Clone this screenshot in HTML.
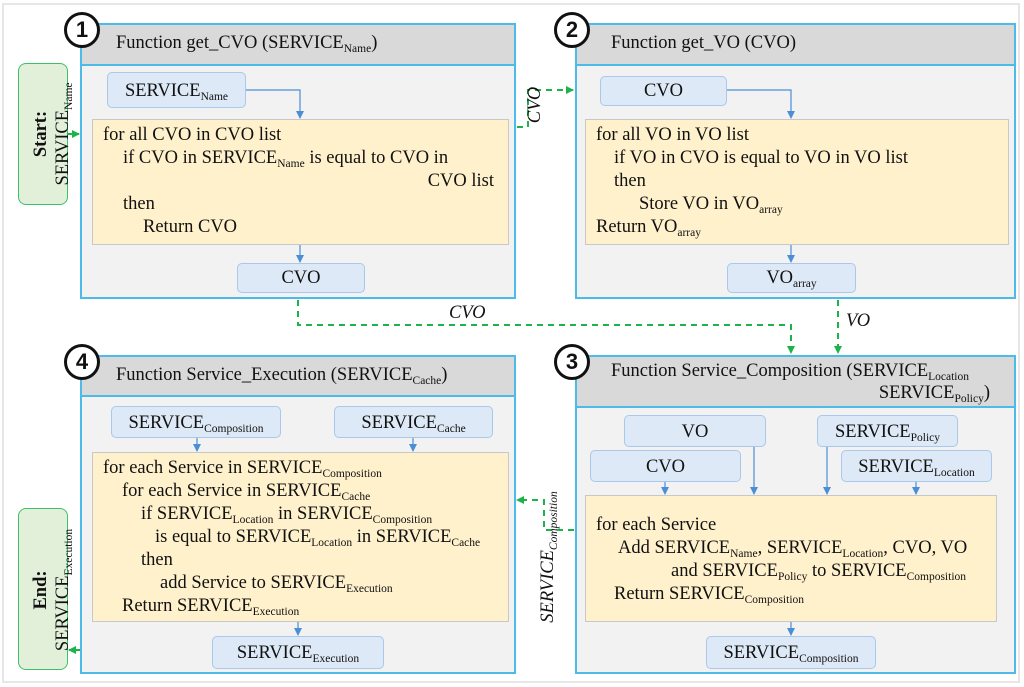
<!DOCTYPE html>
<html><head><meta charset="utf-8"><style>
*{margin:0;padding:0;box-sizing:border-box}
body{width:1024px;height:687px;background:#fff;position:relative;overflow:hidden;font-family:"Liberation Serif",serif;font-size:18.5px;color:#111}
.a{position:absolute}
.frame{left:2px;top:3px;width:1018px;height:680px;border:2px solid #e6e6e6}
.p{position:absolute;border:2px solid #4dbbe8;background:#f2f2f2}
.h{position:absolute;left:0;right:0;top:0;background:#d9d9d9;border-bottom:2px solid #4dbbe8;padding-left:34px;padding-top:8px}
.b{position:absolute;background:#dde9f6;border:1.5px solid #a9c8ea;border-radius:5px;text-align:center;line-height:28px}
.y{position:absolute;background:#fff1cc;border:1.5px solid #c8c8c8;padding:4px 0 0 10px;line-height:23px;white-space:nowrap}
sub{font-size:11.5px;vertical-align:-4px;line-height:0}
.c{position:absolute;width:36px;height:36px;border:3.5px solid #111;border-radius:50%;background:#fff;font:bold 22px "Liberation Sans",sans-serif;text-align:center;line-height:29px}
.g{position:absolute;background:#e2f0d9;border:1.5px solid #3cc06a;border-radius:8px}
.v{position:absolute;transform:rotate(-90deg);transform-origin:center;white-space:nowrap;text-align:center;line-height:20px}
.r{display:block;text-align:right;padding-right:14px}
</style></head><body>
<div class="a frame"></div>

<div class="g" style="left:18px;top:63px;width:50px;height:142px"></div>
<div class="v" style="left:-30px;top:124px;width:142px;height:20px"><b>Start:</b></div>
<div class="v" style="left:-8px;top:124px;width:142px;height:20px">SERVICE<sub>Name</sub></div>
<div class="g" style="left:18px;top:508px;width:50px;height:162px"></div>
<div class="v" style="left:-40px;top:580px;width:162px;height:20px"><b>End:</b></div>
<div class="v" style="left:-18px;top:580px;width:162px;height:20px">SERVICE<sub>Execution</sub></div>

<!-- panel 1 -->
<div class="p" style="left:80px;top:23px;width:436px;height:276px"><div class="h" style="height:41px">Function get_CVO (SERVICE<sub>Name</sub>)</div></div>
<div class="b" style="left:107px;top:72px;width:139px;height:36px;line-height:36px">SERVICE<sub>Name</sub></div>
<div class="y" style="left:92px;top:119px;width:417px;height:126px">for all CVO in CVO list<br><span style="padding-left:20px">if CVO in SERVICE<sub>Name</sub> is equal to CVO in</span><br><span class="r">CVO list</span><span style="padding-left:20px">then</span><br><span style="padding-left:40px">Return CVO</span></div>
<div class="b" style="left:237px;top:263px;width:128px;height:30px">CVO</div>
<div class="c" style="left:64px;top:12px">1</div>

<!-- panel 2 -->
<div class="p" style="left:575px;top:23px;width:441px;height:276px"><div class="h" style="height:41px">Function get_VO (CVO)</div></div>
<div class="b" style="left:600px;top:76px;width:127px;height:30px">CVO</div>
<div class="y" style="left:585px;top:119px;width:424px;height:126px">for all VO in VO list<br><span style="padding-left:18px">if VO in CVO is equal to VO in VO list</span><br><span style="padding-left:18px">then</span><br><span style="padding-left:43px">Store VO in VO<sub>array</sub></span><br>Return VO<sub>array</sub></div>
<div class="b" style="left:727px;top:263px;width:129px;height:30px">VO<sub>array</sub></div>
<div class="c" style="left:554px;top:12px">2</div>

<!-- panel 3 -->
<div class="p" style="left:575px;top:355px;width:441px;height:319px"><div class="h" style="height:51px;padding-top:3px;line-height:22px">Function Service_Composition (SERVICE<sub>Location</sub><br><span class="r" style="padding-right:24px">SERVICE<sub>Policy</sub>)</span></div></div>
<div class="b" style="left:624px;top:415px;width:142px;height:32px;line-height:32px">VO</div>
<div class="b" style="left:590px;top:450px;width:151px;height:32px;line-height:32px">CVO</div>
<div class="b" style="left:817px;top:415px;width:141px;height:32px;line-height:32px">SERVICE<sub>Policy</sub></div>
<div class="b" style="left:841px;top:450px;width:151px;height:32px;line-height:32px">SERVICE<sub>Location</sub></div>
<div class="y" style="left:585px;top:495px;width:412px;height:127px;padding-top:18px">for each Service<br><span style="padding-left:22px">Add SERVICE<sub>Name</sub>, SERVICE<sub>Location</sub>, CVO, VO</span><br><span style="padding-left:75px">and SERVICE<sub>Policy</sub> to SERVICE<sub>Composition</sub></span><br><span style="padding-left:18px">Return SERVICE<sub>Composition</sub></span></div>
<div class="b" style="left:706px;top:636px;width:170px;height:33px;line-height:33px">SERVICE<sub>Composition</sub></div>
<div class="c" style="left:554px;top:344px">3</div>

<!-- panel 4 -->
<div class="p" style="left:80px;top:355px;width:436px;height:319px"><div class="h" style="height:40px">Function Service_Execution (SERVICE<sub>Cache</sub>)</div></div>
<div class="b" style="left:111px;top:406px;width:170px;height:32px;line-height:32px">SERVICE<sub>Composition</sub></div>
<div class="b" style="left:334px;top:406px;width:159px;height:32px;line-height:32px">SERVICE<sub>Cache</sub></div>
<div class="y" style="left:92px;top:452px;width:417px;height:170px;padding-top:4px">for each Service in SERVICE<sub>Composition</sub><br><span style="padding-left:19px">for each Service in SERVICE<sub>Cache</sub></span><br><span style="padding-left:38px">if SERVICE<sub>Location</sub> in SERVICE<sub>Composition</sub></span><br><span style="padding-left:52px">is equal to SERVICE<sub>Location</sub> in SERVICE<sub>Cache</sub></span><br><span style="padding-left:38px">then</span><br><span style="padding-left:57px">add Service to SERVICE<sub>Execution</sub></span><br><span style="padding-left:19px">Return SERVICE<sub>Execution</sub></span></div>
<div class="b" style="left:212px;top:636px;width:172px;height:33px;line-height:33px">SERVICE<sub>Execution</sub></div>
<div class="c" style="left:64px;top:344px">4</div>

<svg class="a" style="left:0;top:0" width="1024" height="687">
<defs><marker id="ga" markerWidth="8" markerHeight="8" refX="7" refY="4" orient="auto" markerUnits="userSpaceOnUse"><path d="M0,0L8,4L0,8z" fill="#1db34a"/></marker>
<marker id="ba" markerWidth="8" markerHeight="8" refX="7" refY="4" orient="auto" markerUnits="userSpaceOnUse"><path d="M0,0L8,4L0,8z" fill="#4a8fd6"/></marker></defs>
<g stroke="#1db34a" stroke-width="2" fill="none" stroke-dasharray="6,5">
<path d="M517,127H528V90H573" marker-end="url(#ga)"/>
<path d="M298,300V325H791V353" marker-end="url(#ga)"/>
<path d="M838,300V353" marker-end="url(#ga)"/>
<path d="M574,530H544V500H517" marker-end="url(#ga)"/>
</g>
<path d="M67,134H79" stroke="#1db34a" stroke-width="2" marker-end="url(#ga)"/>
<path d="M80,650H69" stroke="#1db34a" stroke-width="2" marker-end="url(#ga)"/>
<g stroke="#4a8fd6" stroke-width="1.2" fill="none">
<path d="M246,90H300V118" marker-end="url(#ba)"/><path d="M300,245V262" marker-end="url(#ba)"/>
<path d="M727,90H791V118" marker-end="url(#ba)"/><path d="M791,245V262" marker-end="url(#ba)"/>
<path d="M665,482V494" marker-end="url(#ba)"/><path d="M754,447V494" marker-end="url(#ba)"/><path d="M827,447V494" marker-end="url(#ba)"/><path d="M916,482V494" marker-end="url(#ba)"/>
<path d="M791,622V635" marker-end="url(#ba)"/>
<path d="M197,438V451" marker-end="url(#ba)"/><path d="M413,438V451" marker-end="url(#ba)"/><path d="M298,622V635" marker-end="url(#ba)"/>
</g></svg>

<!-- labels -->
<div class="v" style="left:505px;top:95px;width:60px;font-style:italic">CVO</div>
<div class="a" style="left:449px;top:303px;font-style:italic">CVO</div>
<div class="a" style="left:846px;top:311px;font-style:italic">VO</div>
<div class="v" style="left:478px;top:547px;width:140px;font-style:italic">SERVICE<sub>Composition</sub></div>
</body></html>
